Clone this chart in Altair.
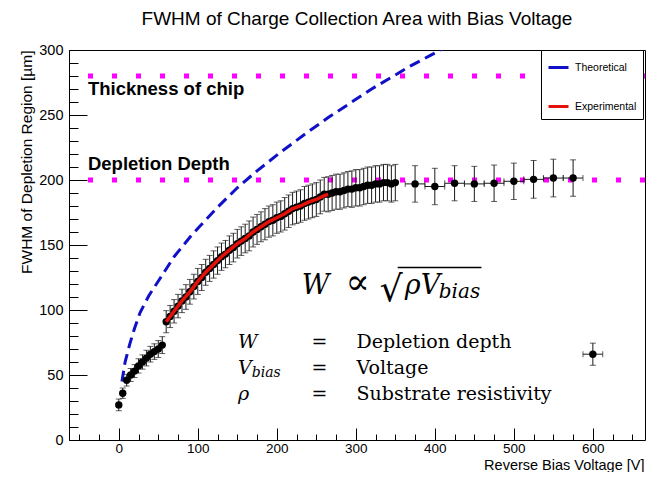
import altair as alt
import pandas as pd

TITLE = "FWHM of Charge Collection Area with Bias Voltage"
X_TITLE = "Reverse Bias Voltage [V]"
Y_TITLE = "FWHM of Depletion Region [µm]"

# ---- measurements: low-voltage group ----
v_low = [0, 5, 10, 15, 20, 25, 30, 35, 40, 45, 50, 55]
w_low = [27, 36, 46, 50, 53, 57, 60, 63, 66, 68, 70, 73]
e_low = [4.5, 4, 4.5, 5, 5, 5.5, 5.5, 6, 6, 6, 6.5, 6.5]

# ---- measurements: dense group ----
v_mid = [60, 65, 70, 75, 80, 85, 90, 95, 100, 105, 110, 115, 120, 125, 130, 135,
         140, 145, 150, 155, 160, 165, 170, 175, 180, 185, 190, 195, 200, 205, 210, 215,
         220, 225, 230, 235, 240, 245, 250, 255, 260, 265, 270, 275, 280, 285, 290, 295,
         300, 305, 310, 315, 320, 325, 330, 335, 340, 345, 350]
w_mid = [91, 95, 99, 103, 107, 110, 114, 118, 122, 125, 129, 132, 135, 138, 141, 143,
         146, 148, 151, 153, 155, 157, 160, 162, 164, 166, 168, 169, 171, 172, 174, 176,
         178, 179, 180, 182, 183, 184, 185, 187, 189, 189, 190, 191, 191, 192, 193, 193,
         194, 194, 195, 196, 196, 197, 197, 198, 198, 197, 198]
e_mid = [8.5, 8.5, 9, 9, 9, 9.5, 9.5, 9.5, 10, 10, 10, 10, 10.5, 10.5, 10.5, 10.5,
         11, 11, 11, 11, 11, 11.5, 11.5, 11.5, 11.5, 12, 12, 12, 12, 12, 12.5, 12.5,
         12.5, 12.5, 12.5, 13, 13, 13, 13, 13, 13, 13.5, 13.5, 13.5, 13.5, 13.5, 13.5, 14,
         14, 14, 14, 14, 14, 14, 14, 14, 14, 14, 14]

# ---- measurements: high-voltage group (with x errors) ----
v_high = [375, 400, 425, 450, 475, 500, 525, 550, 575, 600]
w_high = [197, 195, 197.5, 197, 197.5, 199, 200.5, 201.5, 201.5, 66]
e_high = [14, 14, 13.5, 13.5, 14, 14, 14.5, 14.5, 14, 8.5]
xe_high = [12.5, 12.5, 12.5, 12.5, 12.5, 12.5, 12.5, 12.5, 12.5, 12.5]

# ---- experimental fit ----
fit_v = [60, 70, 80, 90, 100, 110, 120, 130, 140, 150, 160, 170, 180, 190, 200, 210,
         220, 230, 240, 250, 260, 265]
fit_w = [91, 99, 107, 114, 122, 129, 135, 141, 146, 151, 155, 160, 164, 168, 171, 174,
         178, 180, 183, 185, 188, 189]

# ---- theoretical curve ----
theo_v = [4, 8, 14, 20, 27, 38, 52, 70, 90, 102, 125, 150, 175, 204, 235, 265, 295,
          320, 345, 370, 395, 410]
theo_w = [45, 60, 74, 86, 98, 111, 124, 141, 156, 164, 179, 194, 207, 221, 235, 248,
          260, 270, 279, 288, 296, 301]

# ---- reference levels ----
ref_levels = [280, 200]
ref_names = ["Thickness of chip", "Depletion Depth"]
ref_label_v = [-39, -39]
ref_label_w = [265.4, 208]

# ---- formula annotation ----
ital_text = ["W", "ρV", "bias", "W", "V", "bias", "ρ"]
ital_v = [231.6, 362, 405, 151, 151, 168.4, 151]
ital_w = [112, 112, 109, 70.5, 50.8, 48.7, 31]
ital_fs = [27, 27, 20, 19, 19, 14, 19]

norm_text = ["∝", "√", "=", "=", "=", "Depletion depth", "Voltage", "Substrate resistivity"]
norm_v = [287, 330.4, 244, 244, 244, 301, 301, 301]
norm_w = [112, 106.8, 70.5, 50.8, 31, 70.5, 50.8, 31]
norm_fs = [36, 36, 19, 19, 19, 19, 19, 19]

bar_v = [353]
bar_v2 = [459]
bar_w = [132.6]

series_names = ["Theoretical", "Experimental"]
series_colors = ["#1010c8", "#e3120b"]

X_DOMAIN = [-63, 666]
Y_DOMAIN = [0, 300]

# ---- tables ----
meas = pd.DataFrame({
    "V": v_low + v_mid + v_high,
    "W": w_low + w_mid + w_high,
    "err": e_low + e_mid + e_high,
})
meas["lo"] = meas["W"] - meas["err"]
meas["hi"] = meas["W"] + meas["err"]

high = pd.DataFrame({"V": v_high, "W": w_high, "xe": xe_high})
high["xlo"] = high["V"] - high["xe"]
high["xhi"] = high["V"] + high["xe"]

theo = pd.DataFrame({"V": theo_v, "W": theo_w, "series": "Theoretical"})
fit = pd.DataFrame({"V": fit_v, "W": fit_w, "series": "Experimental"})
refs = pd.DataFrame({"W": ref_levels})
ref_lab = pd.DataFrame({"V": ref_label_v, "W": ref_label_w, "t": ref_names})
ital = pd.DataFrame({"V": ital_v, "W": ital_w, "t": ital_text, "fs": ital_fs})
norm = pd.DataFrame({"V": norm_v, "W": norm_w, "t": norm_text, "fs": norm_fs})
bar = pd.DataFrame({"V": bar_v, "V2": bar_v2, "W": bar_w})

PLOT_W = 576
PLOT_H = 390


def xs():
    return alt.Scale(domain=X_DOMAIN, nice=False, zero=False)


def ys():
    return alt.Scale(domain=Y_DOMAIN, nice=False, zero=False)


cscale = alt.Scale(domain=series_names, range=series_colors)
legend = alt.Legend(
    title=None, orient="none", legendX=472, legendY=0,
    symbolType="stroke", symbolSize=400, symbolStrokeWidth=3, symbolDash=[1, 0],
    labelFontSize=10.5, labelFont="Liberation Sans", labelColor="black",
    labelOffset=5, rowPadding=21, padding=6,
    strokeColor="black", fillColor="white",
)

main_x_axis = alt.Axis(
    orient="bottom", values=[0, 100, 200, 300, 400, 500, 600], tickSize=12, offset=-12,
    domain=False, grid=False, labelFontSize=13.5, labelPadding=1, labelColor="black",
    labelFlush=False, labelOverlap=False, tickColor="black",
    title=X_TITLE, titleFontSize=14.5, titleFontWeight="normal", titleColor="black",
    titleAnchor="end", titleAlign="right", titleBaseline="alphabetic",
    titleX=PLOT_W - 1, titleY=41,
)
main_y_axis = alt.Axis(
    orient="left", values=[0, 50, 100, 150, 200, 250, 300], tickSize=18, offset=-18,
    domain=False, grid=False, labelFontSize=14.5, labelPadding=6, labelColor="black",
    labelFlush=False, labelOverlap=False, tickColor="black",
    title=Y_TITLE, titleFontSize=15.5, titleFontWeight="normal", titleColor="black",
    titleAngle=-90, titleAlign="right", titleBaseline="alphabetic", titleX=-56, titleY=0,
)
minor_x_axis = alt.Axis(
    orient="bottom", values=list(range(-50, 651, 25)), tickSize=6, offset=-6,
    domain=False, grid=False, labels=False, title=None, tickColor="black",
)
minor_y_axis = alt.Axis(
    orient="left", values=list(range(0, 301, 10)), tickSize=9, offset=-9,
    domain=False, grid=False, labels=False, title=None, tickColor="black",
)

mag = alt.Chart(refs).mark_rule(
    color="#ff00ff", strokeWidth=5, strokeDash=[5, 19]
).encode(y=alt.Y("W:Q", scale=ys(), axis=None))

blue = alt.Chart(theo).mark_line(strokeWidth=3, strokeDash=[11, 6], clip=True).encode(
    x=alt.X("V:Q", scale=xs(), axis=None),
    y=alt.Y("W:Q", scale=ys(), axis=None),
    color=alt.Color("series:N", scale=cscale, legend=legend),
)

vbars = alt.Chart(meas).mark_rule(color="#1a1a1a", strokeWidth=1).encode(
    x=alt.X("V:Q", scale=xs(), axis=minor_x_axis),
    y=alt.Y("lo:Q", scale=ys(), axis=minor_y_axis),
    y2="hi:Q",
)

vcaps = alt.Chart(meas).transform_fold(["lo", "hi"], as_=["k", "e"]).mark_tick(
    orient="horizontal", size=6, thickness=1, color="#1a1a1a"
).encode(
    x=alt.X("V:Q", scale=xs(), axis=None),
    y=alt.Y("e:Q", scale=ys(), axis=None),
)

hbars = alt.Chart(high).mark_rule(color="#1a1a1a", strokeWidth=1).encode(
    x=alt.X("xlo:Q", scale=xs(), axis=None),
    x2="xhi:Q",
    y=alt.Y("W:Q", scale=ys(), axis=None),
)

hcaps = alt.Chart(high).transform_fold(["xlo", "xhi"], as_=["k", "e"]).mark_tick(
    orient="vertical", size=6, thickness=1, color="#1a1a1a"
).encode(
    x=alt.X("e:Q", scale=xs(), axis=None),
    y=alt.Y("W:Q", scale=ys(), axis=None),
)

pts = alt.Chart(meas).mark_circle(size=55, color="black", opacity=1).encode(
    x=alt.X("V:Q", scale=xs(), axis=main_x_axis),
    y=alt.Y("W:Q", scale=ys(), axis=main_y_axis),
)

red = alt.Chart(fit).mark_line(strokeWidth=3.5).encode(
    x=alt.X("V:Q", scale=xs(), axis=None),
    y=alt.Y("W:Q", scale=ys(), axis=None),
    color=alt.Color("series:N", scale=cscale, legend=legend),
)

ref_text = alt.Chart(ref_lab).mark_text(
    align="left", baseline="alphabetic", font="Liberation Sans", fontWeight="bold",
    fontSize=18.5, color="black"
).encode(
    x=alt.X("V:Q", scale=xs(), axis=None),
    y=alt.Y("W:Q", scale=ys(), axis=None),
    text="t:N",
)

ital_layer = alt.Chart(ital).mark_text(
    align="left", baseline="alphabetic", font="DejaVu Serif", fontStyle="italic",
    color="black"
).encode(
    x=alt.X("V:Q", scale=xs(), axis=None),
    y=alt.Y("W:Q", scale=ys(), axis=None),
    text="t:N",
    size=alt.Size("fs:Q", scale=None, legend=None),
)

norm_layer = alt.Chart(norm).mark_text(
    align="left", baseline="alphabetic", font="DejaVu Serif", color="black"
).encode(
    x=alt.X("V:Q", scale=xs(), axis=None),
    y=alt.Y("W:Q", scale=ys(), axis=None),
    text="t:N",
    size=alt.Size("fs:Q", scale=None, legend=None),
)

over = alt.Chart(bar).mark_rule(color="black", strokeWidth=1.5).encode(
    x=alt.X("V:Q", scale=xs(), axis=None),
    x2="V2:Q",
    y=alt.Y("W:Q", scale=ys(), axis=None),
)

chart = alt.layer(
    mag, blue, vbars, vcaps, hbars, hcaps, pts, red,
    ref_text, ital_layer, norm_layer, over,
).resolve_scale(
    x="independent", y="independent"
).properties(
    width=PLOT_W, height=PLOT_H,
    autosize=alt.AutoSizeParams(type="none"),
    padding={"left": 61, "top": 42, "right": 1, "bottom": 32},
    title=alt.Title(TITLE, fontSize=19, font="Liberation Sans", fontWeight="normal",
                    anchor="middle", offset=0, dy=6, baseline="bottom", color="black"),
).configure(
    font="Liberation Sans",
).configure_view(
    stroke="black", strokeWidth=1, fill="white",
).configure_axis(
    labelFont="Liberation Sans", titleFont="Liberation Sans",
)

chart.save("out.html", embed_options={"renderer": "svg", "actions": False})
